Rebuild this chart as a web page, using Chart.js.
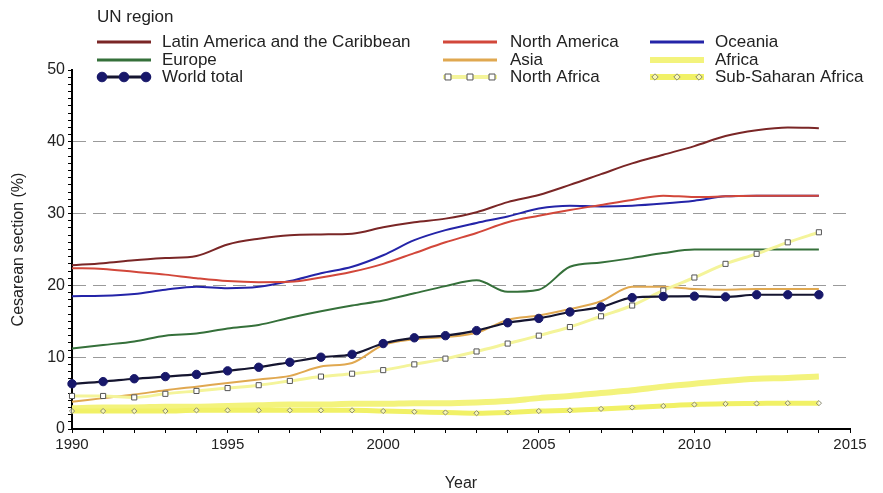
<!DOCTYPE html>
<html>
<head>
<meta charset="utf-8">
<script src="https://cdn.jsdelivr.net/npm/chart.js@4/dist/chart.umd.min.js"></script>
<style>
  html, body { margin: 0; padding: 0; background: #fff; }
  #wrap { width: 883px; height: 493px; position: relative; }
</style>
</head>
<body>
<div id="wrap"><canvas id="c" width="883" height="493"></canvas></div>
<script>
// Cesarean section rates (%) by UN region, 1990-2014
const years = [1990, 1991, 1992, 1993, 1994, 1995, 1996, 1997, 1998, 1999, 2000, 2001, 2002,
               2003, 2004, 2005, 2006, 2007, 2008, 2009, 2010, 2011, 2012, 2013, 2014];

const latinAmerica = [22.8, 23.1, 23.5, 23.8, 24.1, 25.7, 26.5, 27.0, 27.1, 27.2, 28.1, 28.8, 29.3,
                      30.2, 31.6, 32.6, 34.0, 35.5, 37.0, 38.2, 39.4, 40.8, 41.6, 42.0, 41.9];
const northAmerica = [22.4, 22.3, 21.9, 21.5, 21.0, 20.6, 20.45, 20.5, 21.1, 21.9, 23.0, 24.5, 26.0,
                      27.3, 28.8, 29.7, 30.5, 31.2, 31.9, 32.5, 32.3, 32.4, 32.5, 32.5, 32.5];
const oceania = [18.5, 18.55, 18.8, 19.4, 19.8, 19.6, 19.8, 20.6, 21.7, 22.6, 24.2, 26.3, 27.7,
                 28.7, 29.6, 30.7, 31.1, 31.0, 31.1, 31.4, 31.8, 32.4, 32.5, 32.5, 32.5];
const europe = [11.2, 11.7, 12.2, 13.0, 13.3, 14.0, 14.5, 15.5, 16.4, 17.2, 17.9, 18.9, 19.9,
                20.7, 19.1, 19.4, 22.6, 23.2, 23.8, 24.5, 25.0, 25.0, 25.0, 25.0, 25.0];
const asia = [3.8, 4.3, 4.8, 5.4, 5.9, 6.4, 6.9, 7.4, 8.7, 9.2, 11.7, 12.5, 12.8,
              13.4, 15.2, 15.8, 16.7, 17.8, 19.8, 19.8, 19.5, 19.4, 19.5, 19.5, 19.5];
const africa = [2.9, 3.0, 3.0, 3.1, 3.1, 3.2, 3.3, 3.4, 3.4, 3.5, 3.5, 3.6, 3.6,
                3.7, 3.9, 4.3, 4.6, 5.0, 5.4, 5.9, 6.3, 6.7, 7.0, 7.1, 7.3];
const worldTotal = [6.3, 6.6, 7.0, 7.3, 7.6, 8.1, 8.6, 9.3, 10.0, 10.4, 11.9, 12.7, 13.0,
                    13.7, 14.8, 15.4, 16.3, 17.0, 18.3, 18.45, 18.5, 18.4, 18.7, 18.7, 18.7];
const northAfrica = [4.6, 4.6, 4.4, 4.9, 5.3, 5.7, 6.1, 6.7, 7.3, 7.7, 8.2, 9.0, 9.8,
                     10.8, 11.9, 13.0, 14.2, 15.7, 17.2, 19.3, 21.1, 23.0, 24.4, 26.0, 27.4];
const subSaharan = [2.5, 2.5, 2.5, 2.5, 2.6, 2.6, 2.6, 2.6, 2.6, 2.6, 2.5, 2.4, 2.3,
                    2.2, 2.3, 2.5, 2.6, 2.8, 3.0, 3.2, 3.4, 3.5, 3.55, 3.6, 3.6];

const legendTitle = 'UN region';
const xTitle = 'Year';
const yTitle = 'Cesarean section (%)';

const FONT = "'Liberation Sans', Arial, sans-serif";

function pts(values) {
  return values.map((v, i) => ({ x: years[i], y: v }));
}

function series(label, values, style) {
  return Object.assign({
    label: label,
    data: pts(values),
    fill: false,
    pointRadius: 0,
    cubicInterpolationMode: 'monotone',
    clip: false
  }, style);
}

// Legend order: three columns, three rows
const datasets = [
  series('Latin America and the Caribbean', latinAmerica, { borderColor: '#7a2626', borderWidth: 2, order: 3 }),
  series('North America', northAmerica, { borderColor: '#d2473a', borderWidth: 2, order: 4 }),
  series('Oceania', oceania, { borderColor: '#2424a8', borderWidth: 2, order: 5 }),
  series('Europe', europe, { borderColor: '#35703a', borderWidth: 2, order: 6 }),
  series('Asia', asia, { borderColor: '#e0a850', borderWidth: 2, order: 2 }),
  series('Africa', africa, { borderColor: '#f3f37c', borderWidth: 6, order: 9 }),
  series('World total', worldTotal, {
    borderColor: '#151530', borderWidth: 2.2, order: 0,
    pointRadius: 4.2, pointStyle: 'circle',
    pointBackgroundColor: '#18186a', pointBorderColor: '#18186a', pointBorderWidth: 1
  }),
  series('North Africa', northAfrica, {
    borderColor: '#f4f49a', borderWidth: 3, order: 1,
    pointRadius: 3.6, pointStyle: 'rect',
    pointBackgroundColor: '#ffffff', pointBorderColor: '#555555', pointBorderWidth: 1
  }),
  series('Sub-Saharan Africa', subSaharan, {
    borderColor: '#f1f166', borderWidth: 5, order: 8,
    pointRadius: 2.6, pointStyle: 'rectRot',
    pointBackgroundColor: 'rgba(255,255,255,0.5)', pointBorderColor: '#8a8a70', pointBorderWidth: 1
  })
];

// Three-column legend above the plot, built from the dataset styles
const columnLegend = {
  id: 'columnLegend',
  afterDraw(chart) {
    const ctx = chart.ctx;
    const cols = [{ line: 97, text: 162 }, { line: 443, text: 510 }, { line: 650, text: 715 }];
    const rows = [42, 60, 77];
    const lineLen = 54;
    ctx.save();
    ctx.font = '17px ' + FONT;
    ctx.textBaseline = 'middle';
    ctx.textAlign = 'left';
    ctx.fillStyle = '#222';
    ctx.fillText(legendTitle, 97, 17);
    chart.data.datasets.forEach((ds, i) => {
      const c = cols[i % 3];
      const y = rows[Math.floor(i / 3)];
      ctx.strokeStyle = ds.borderColor;
      ctx.lineWidth = Math.min(ds.borderWidth + 1, 6);
      ctx.setLineDash([]);
      ctx.beginPath();
      ctx.moveTo(c.line, y);
      ctx.lineTo(c.line + lineLen, y);
      ctx.stroke();
      if (ds.pointRadius > 0) {
        [c.line + 5, c.line + lineLen / 2, c.line + lineLen - 5].forEach(px => {
          ctx.fillStyle = ds.pointBackgroundColor;
          ctx.strokeStyle = ds.pointBorderColor;
          ctx.lineWidth = ds.pointBorderWidth;
          Chart.helpers.drawPoint(ctx, {
            pointStyle: ds.pointStyle, radius: ds.pointRadius + 0.6, rotation: 0,
            borderWidth: ds.pointBorderWidth
          }, px, y);
        });
      }
      ctx.fillStyle = '#222';
      ctx.fillText(ds.label, c.text, y);
    });
    ctx.restore();
  }
};

new Chart(document.getElementById('c'), {
  type: 'line',
  data: { datasets: datasets },
  plugins: [columnLegend],
  options: {
    responsive: false,
    animation: false,
    layout: { padding: { top: 70, right: 33, left: 0, bottom: 0 } },
    plugins: {
      legend: { display: false },
      tooltip: { enabled: false }
    },
    scales: {
      x: {
        type: 'linear',
        min: 1990,
        max: 2015,
        afterFit(scale) { scale.height = 64; },
        ticks: {
          stepSize: 1,
          autoSkip: false,
          maxRotation: 0,
          maxTicksLimit: 100,
          padding: 3,
          color: '#222',
          font: { family: FONT, size: 15 },
          callback: v => (v % 5 === 0 ? String(v) : '')
        },
        grid: {
          drawOnChartArea: false,
          tickLength: 4,
          tickColor: '#000',
          color: '#000'
        },
        border: { color: '#000', width: 2 },
        title: {
          display: true,
          text: xTitle,
          color: '#222',
          font: { family: FONT, size: 16 },
          padding: { top: 8, bottom: 0 }
        }
      },
      y: {
        min: 0,
        max: 50,
        afterFit(scale) { scale.width = 72; },
        ticks: {
          stepSize: 1,
          autoSkip: false,
          maxTicksLimit: 100,
          padding: 3,
          color: '#222',
          font: { family: FONT, size: 16 },
          callback: v => (v % 10 === 0 ? String(v) : '')
        },
        grid: {
          tickLength: 4,
          tickColor: '#000',
          color: ctx => {
            const v = ctx.tick ? ctx.tick.value : 0;
            return (v % 10 === 0 && v > 0 && v < 50) ? '#9a9a9a' : 'rgba(0,0,0,0)';
          }
        },
        border: { color: '#000', width: 2, dash: [13, 7] },
        title: {
          display: true,
          text: yTitle,
          color: '#222',
          font: { family: FONT, size: 16 },
          padding: { top: 9, bottom: 6 }
        }
      }
    }
  }
});
</script>
</body>
</html>
